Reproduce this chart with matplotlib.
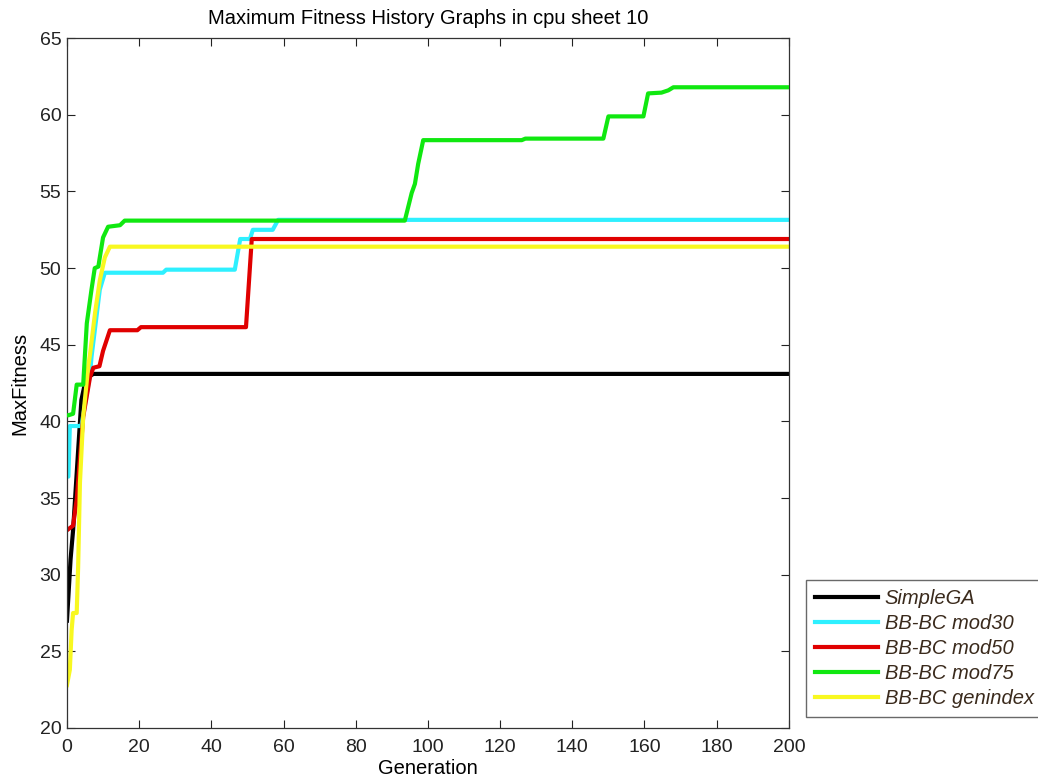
import matplotlib
matplotlib.use("Agg")
import matplotlib.pyplot as plt

plt.rcParams['font.family'] = ['Liberation Sans', 'DejaVu Sans']

# Max fitness per generation, stored as (generation, fitness) breakpoints
simple_ga_gen = [0, 1, 1.7, 3.1, 4, 5, 6, 7.3, 200]
simple_ga_fit = [27.0, 31.0, 32.9, 38.1, 41.4, 42.5, 42.9, 43.1, 43.1]

mod30_gen = [0, 0.4, 0.8, 4, 5.5, 6.4, 6.8, 9.1, 10.5, 26.6, 27.5, 46.5, 48, 50.7, 51.5, 57, 58.5, 200]
mod30_fit = [36.4, 36.4, 39.7, 39.7, 41.8, 43.1, 44.2, 48.6, 49.7, 49.7, 49.9, 49.9, 51.9, 51.9, 52.5, 52.5, 53.15, 53.15]

mod50_gen = [0, 1.7, 2.7, 4.5, 6.4, 7.3, 9, 10, 11.9, 19.5, 20.5, 49.6, 51.2, 200]
mod50_fit = [32.9, 33.2, 34.9, 40.3, 42.9, 43.5, 43.6, 44.6, 45.95, 45.95, 46.15, 46.15, 51.9, 51.9]

mod75_gen = [0, 0.4, 1.7, 2.7, 4.5, 5.5, 6.8, 7.7, 8.7, 9.1, 10, 11.4, 14.7, 16, 93.6,
             95.5, 96.4, 97.3, 98.7, 126, 127, 148.6, 150, 159.7, 161, 164.7, 166.6, 168, 200]
mod75_fit = [40.4, 40.4, 40.5, 42.4, 42.4, 46.4, 48.6, 50.0, 50.1, 50.7, 52.0, 52.7, 52.8, 53.1, 53.1,
             54.9, 55.5, 56.8, 58.35, 58.35, 58.45, 58.45, 59.9, 59.9, 61.4, 61.45, 61.6, 61.8, 61.8]

genindex_gen = [0, 0.8, 1.3, 1.7, 2.7, 3.1, 3.6, 4.5, 5.9, 6.4, 7.8, 9.1, 10.5, 11.9, 200]
genindex_fit = [22.8, 23.8, 26.4, 27.5, 27.5, 30.5, 36.0, 40.3, 43.6, 44.4, 47.1, 49.2, 50.7, 51.4, 51.4]

series_names = ['SimpleGA', 'BB-BC mod30', 'BB-BC mod50', 'BB-BC mod75', 'BB-BC genindex']
series_colors = ['#000000', '#2ef0ff', '#e00000', '#10e810', '#f8f820']

x_ticks = list(range(0, 201, 20))
y_ticks = list(range(20, 66, 5))

fig = plt.figure(figsize=(10.38, 7.8), dpi=100)
ax = fig.add_axes([0.0645, 0.0667, 0.6955, 0.8843])

series = [(simple_ga_gen, simple_ga_fit), (mod30_gen, mod30_fit), (mod50_gen, mod50_fit),
          (mod75_gen, mod75_fit), (genindex_gen, genindex_fit)]
handles = []
for (g, f), name, c in zip(series, series_names, series_colors):
    h, = ax.plot(g, f, color=c, linewidth=3.0, label=name, solid_joinstyle='round')
    handles.append(h)
handles[3].set_zorder(3)

ax.set_xlim(0, 200)
ax.set_ylim(20, 65)
ax.set_xticks(x_ticks)
ax.set_yticks(y_ticks)
ax.tick_params(direction='in', length=6, width=0.8, top=True, right=True,
               labelsize=14, colors='#222222')
ax.tick_params(axis='x', pad=8)
ax.tick_params(axis='y', pad=4)
for s in ax.spines.values():
    s.set_linewidth(0.9)
    s.set_color('#333333')

ax.set_title('Maximum Fitness History Graphs in cpu sheet 10', fontsize=14.5, pad=10)
ax.set_xlabel('Generation', fontsize=14.5, labelpad=2)
ax.set_ylabel('MaxFitness', fontsize=14.5, labelpad=7)

leg = fig.legend(handles=handles, labels=series_names, loc='upper left',
                 bbox_to_anchor=(0.7765, 0.2564), frameon=True, fancybox=False,
                 fontsize=14.5, handlelength=3.1, handletextpad=0.35, labelspacing=0.3,
                 borderpad=0.45, borderaxespad=0)
leg.get_frame().set_edgecolor('#444444')
leg.get_frame().set_linewidth(1.0)
for t in leg.get_texts():
    t.set_fontstyle('italic')
    t.set_color('#3a2a1c')

fig.savefig('out.png', dpi=100, facecolor='white')
